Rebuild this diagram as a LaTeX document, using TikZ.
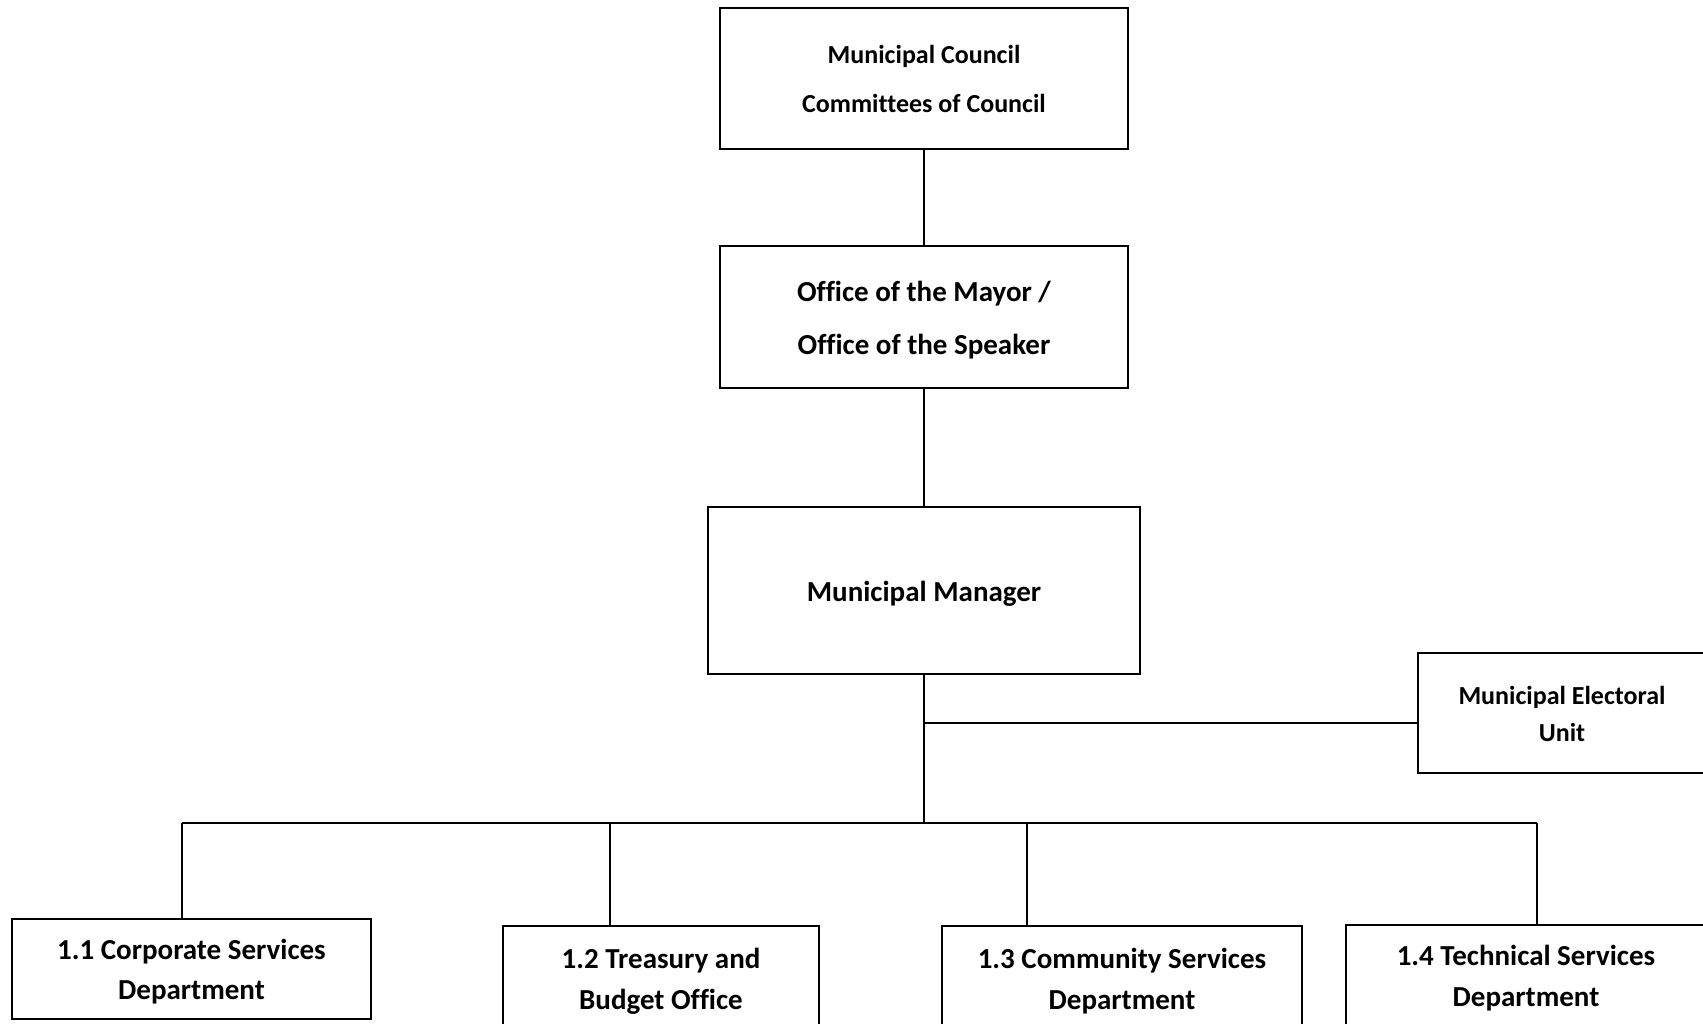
\documentclass[tikz,border=0pt]{standalone}
\usepackage{fontspec}
\setmainfont{Carlito}[Ligatures=CommonOff]
\begin{document}
\begin{tikzpicture}[x=1pt,y=-1pt,
  box/.style={draw=black,line width=2.8pt,fill=white,inner sep=0pt},
  txt/.style={align=center,inner sep=0pt},
  conn/.style={draw=black,line width=1.9pt}]
\useasboundingbox (0,0) rectangle (1703,1024);
\fill[white] (0,0) rectangle (1703,1024);
% boxes
\node[box,minimum width=408pt,minimum height=141pt] (council) at (924,78.5) {};
\node[box,minimum width=408pt,minimum height=142pt] (mayor) at (924,317) {};
\node[box,minimum width=432pt,minimum height=167pt] (manager) at (924,590.5) {};
\node[box,minimum width=288pt,minimum height=120pt] (electoral) at (1562,713) {};
\node[box,minimum width=359pt,minimum height=100pt] (d1) at (191.5,969) {};
\node[box,minimum width=316pt,minimum height=104pt] (d2) at (661,978) {};
\node[box,minimum width=360pt,minimum height=104pt] (d3) at (1122,978) {};
\node[box,minimum width=360pt,minimum height=100pt] (d4) at (1526,975) {};
% texts
\node[txt,font=\bfseries\fontsize{26}{49}\selectfont] (council-t) at (council) {Municipal Council\\Committees of Council};
\node[txt,yshift=-3pt,font=\bfseries\fontsize{29}{53}\selectfont] (mayor-t) at (mayor) {Office of the Mayor /\\Office of the Speaker};
\node[txt,yshift=-3pt,font=\bfseries\fontsize{29}{35}\selectfont] (manager-t) at (manager) {Municipal Manager};
\node[txt,yshift=-0.5pt,font=\bfseries\fontsize{26}{37}\selectfont] (electoral-t) at (electoral) {Municipal Electoral\\Unit};
\node[txt,yshift=-3pt,font=\bfseries\fontsize{29}{40}\selectfont] (d1-t) at (d1) {1.1 Corporate Services\\Department};
\node[txt,yshift=-3pt,font=\bfseries\fontsize{29}{41}\selectfont] (d2-t) at (d2) {1.2 Treasury and\\Budget Office};
\node[txt,yshift=-3pt,font=\bfseries\fontsize{29}{41}\selectfont] (d3-t) at (d3) {1.3 Community Services\\Department};
\node[txt,yshift=-3pt,font=\bfseries\fontsize{29}{41}\selectfont] (d4-t) at (d4) {1.4 Technical Services\\Department};
% connectors
\coordinate (jE) at (924,723);
\coordinate (bus) at (924,823);
\coordinate (b1) at (182,823);
\coordinate (b2) at (610,823);
\coordinate (b3) at (1027,823);
\coordinate (b4) at (1537,823);
\draw[conn] (council.south) -- (mayor.north);
\draw[conn] (mayor.south) -- (manager.north);
\draw[conn] (manager.south) -- (bus);
\draw[conn] (jE) -- (jE -| electoral.west);
\draw[conn] (b1) -- (b4);
\draw[conn] (b1) -- (b1 |- d1.north);
\draw[conn] (b2) -- (b2 |- d2.north);
\draw[conn] (b3) -- (b3 |- d3.north);
\draw[conn] (b4) -- (b4 |- d4.north);
\end{tikzpicture}
\end{document}
